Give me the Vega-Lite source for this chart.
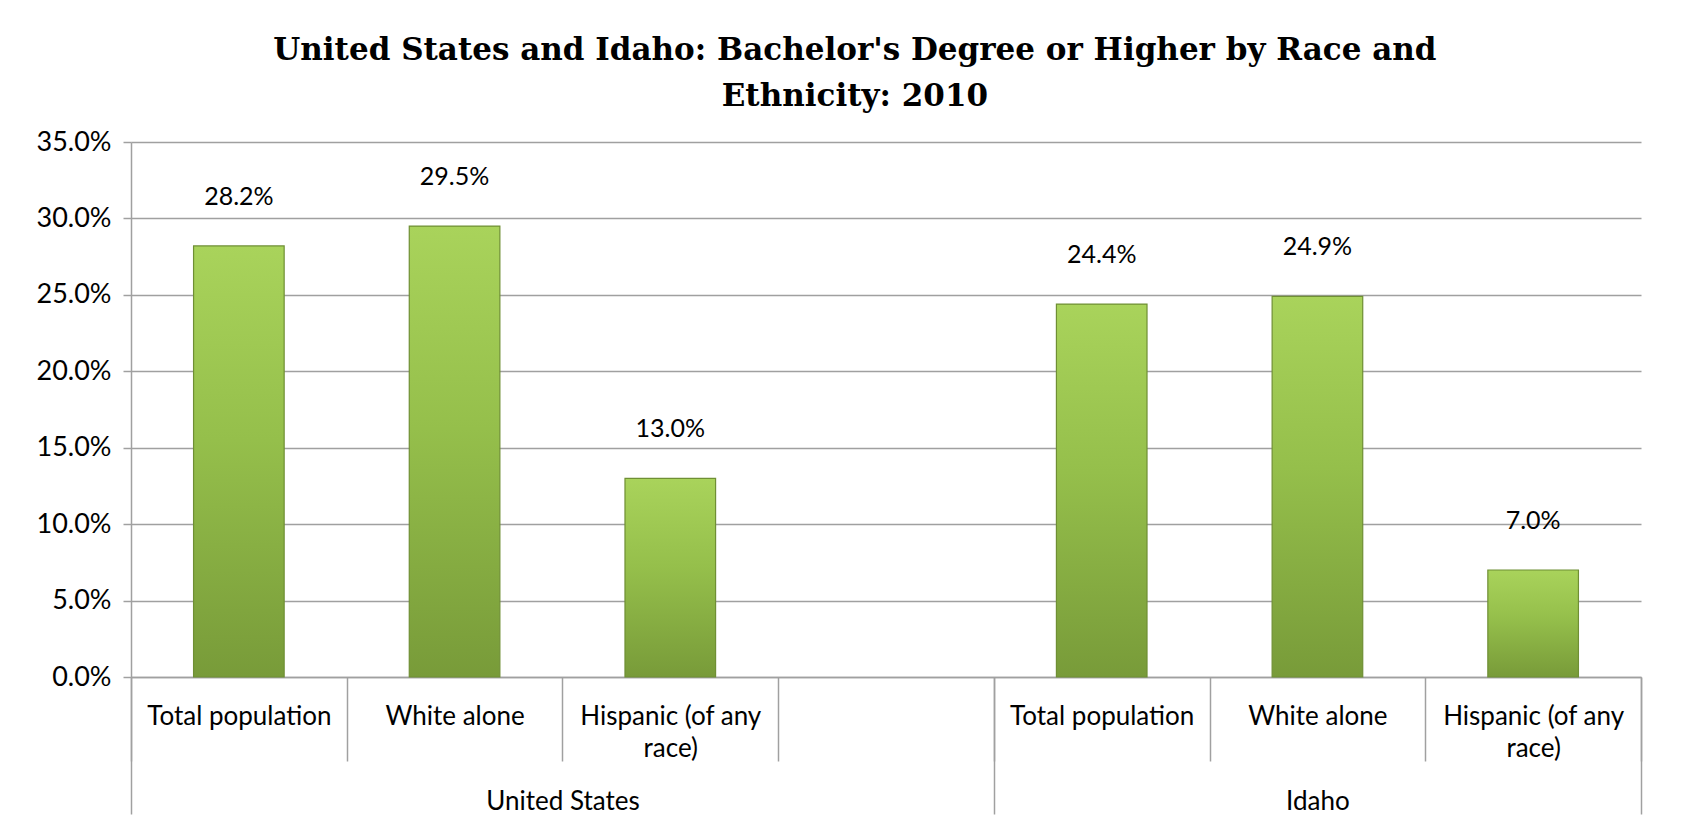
{
  "$schema": "https://vega.github.io/schema/vega-lite/v6.json",
  "autosize": {"type": "none"},
  "width": 1510,
  "height": 535,
  "padding": {"left": 131, "top": 142, "right": 51, "bottom": 145},
  "background": "white",
  "title": {
    "text": ["United States and Idaho: Bachelor's Degree or Higher by Race and", "Ethnicity: 2010"],
    "font": "DejaVu Serif",
    "fontSize": 31,
    "fontWeight": "bold",
    "color": "black",
    "lineHeight": 46,
    "anchor": "middle",
    "frame": "bounds",
    "offset": 15,
    "dx": 16
  },
  "data": {
    "values": [
      {"slot": "US|Total population", "value": 0.282},
      {"slot": "US|White alone", "value": 0.295},
      {"slot": "US|Hispanic (of any race)", "value": 0.130},
      {"slot": "ID|Total population", "value": 0.244},
      {"slot": "ID|White alone", "value": 0.249},
      {"slot": "ID|Hispanic (of any race)", "value": 0.070}
    ]
  },
  "config": {
    "view": {"stroke": null},
    "axis": {"labelFont": "Lato", "labelColor": "black", "labelFontSize": 26}
  },
  "resolve": {"scale": {"x": "independent"}, "axis": {"x": "independent"}},
  "layer": [
    {
      "encoding": {
        "x": {
          "field": "slot",
          "type": "nominal",
          "sort": null,
          "scale": {
            "type": "band",
            "domain": ["US|Total population", "US|White alone", "US|Hispanic (of any race)", "US|", "ID|Total population", "ID|White alone", "ID|Hispanic (of any race)"],
            "paddingInner": 0,
            "paddingOuter": 0
          },
          "axis": {
            "title": null,
            "labelAngle": 0,
            "labelExpr": "split(datum.value,'|')[1] == 'Hispanic (of any race)' ? ['Hispanic (of any', 'race)'] : split(datum.value,'|')[1]",
            "labelLineHeight": 32,
            "labelPadding": -58,
            "tickBand": "extent",
            "tickSize": 84,
            "tickColor": "#a0a0a0",
            "tickWidth": 1.5,
            "domainColor": "#a0a0a0",
            "domainWidth": 1.5,
            "labelLimit": 300
          }
        },
        "y": {
          "field": "value",
          "type": "quantitative",
          "scale": {"domain": [0, 0.35], "nice": false},
          "axis": {
            "title": null,
            "format": ".1%",
            "values": [0, 0.05, 0.1, 0.15, 0.2, 0.25, 0.3, 0.35],
            "tickSize": 8,
            "labelPadding": 12,
            "labelFontSize": 27,
            "tickColor": "#a0a0a0",
            "tickWidth": 1.5,
            "domainColor": "#a0a0a0",
            "domainWidth": 1.5,
            "gridColor": "#a0a0a0",
            "gridWidth": 1.5
          }
        }
      },
      "layer": [
        {
          "mark": {
            "type": "bar",
            "width": {"band": 0.42},
            "color": {
              "gradient": "linear",
              "x1": 0, "y1": 0, "x2": 0, "y2": 1,
              "stops": [
                {"offset": 0, "color": "#a9d35b"},
                {"offset": 0.45, "color": "#95bf4b"},
                {"offset": 1, "color": "#789b39"}
              ]
            },
            "stroke": "#6f8f34",
            "strokeWidth": 1.2
          }
        },
        {
          "mark": {"type": "text", "baseline": "bottom", "dy": -36, "font": "Lato", "fontSize": 25, "color": "black"},
          "encoding": {"text": {"field": "value", "type": "quantitative", "format": ".1%"}}
        }
      ]
    },
    {
      "mark": {"type": "bar", "opacity": 0},
      "encoding": {
        "x": {
          "field": "slot",
          "type": "nominal",
          "sort": null,
          "scale": {
            "type": "band",
            "domain": ["US|Total population", "US|White alone", "US|Hispanic (of any race)", "US|", "ID|Total population", "ID|White alone", "ID|Hispanic (of any race)"],
            "paddingInner": 0,
            "paddingOuter": 0
          },
          "axis": {
            "orient": "bottom",
            "title": null,
            "domain": false,
            "labelAngle": 0,
            "labelExpr": "datum.value == 'US|White alone' ? 'United States' : datum.value == 'ID|White alone' ? 'Idaho' : ''",
            "labelOffset": {"condition": {"test": "datum.value == 'US|White alone'", "value": 108}, "value": 0},
            "labelPadding": -26,
            "tickBand": "extent",
            "tickSize": 137,
            "tickColor": "#a0a0a0",
            "tickWidth": 1.5,
            "tickOpacity": {"condition": {"test": "datum.value == 'US|' || datum.value == 'ID|Hispanic (of any race)' || datum.value == null", "value": 1}, "value": 0}
          }
        },
        "y": {"field": "value", "type": "quantitative"}
      }
    }
  ]
}
